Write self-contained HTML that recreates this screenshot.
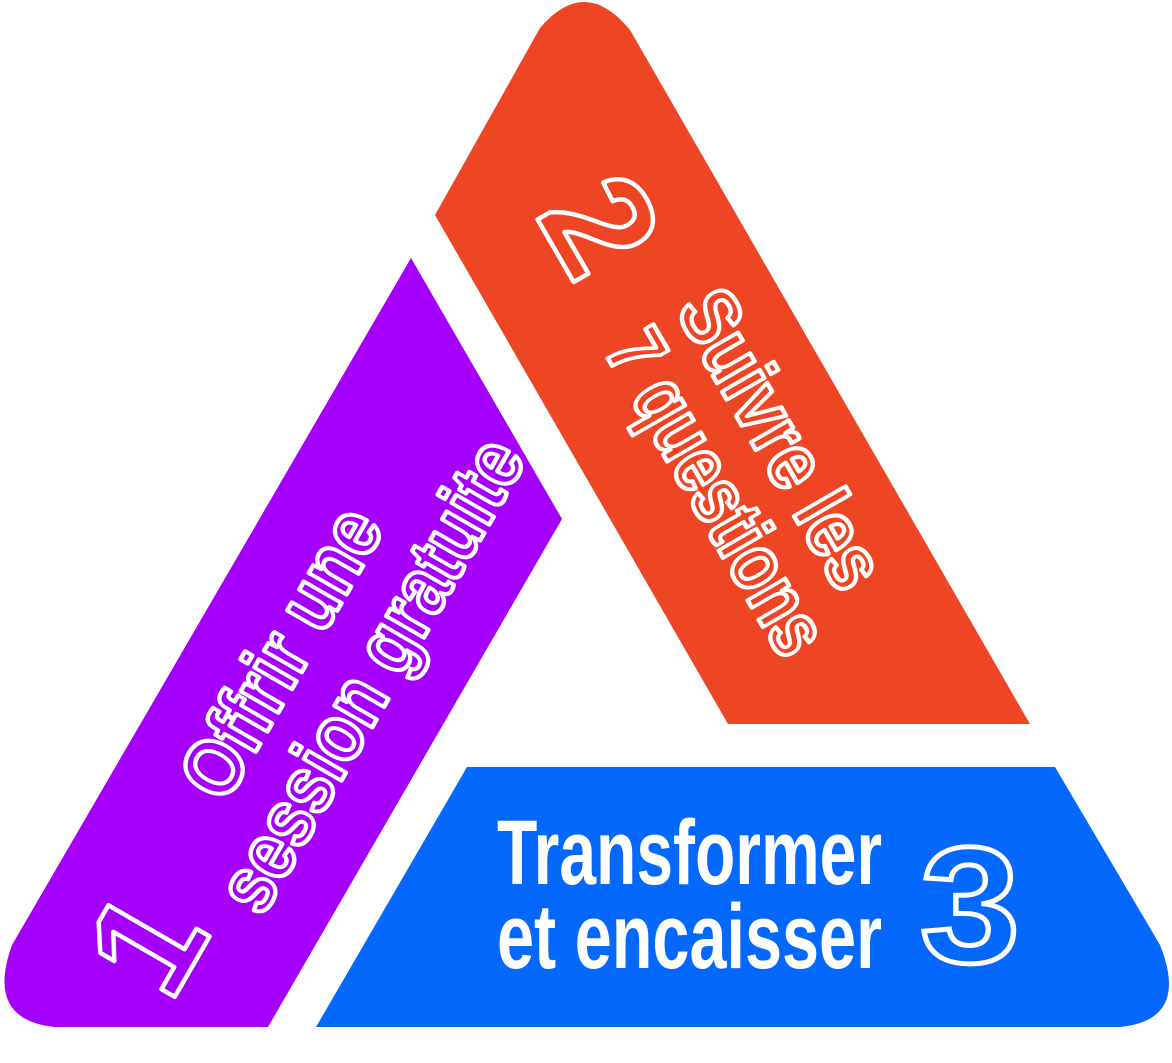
<!DOCTYPE html>
<html><head><meta charset="utf-8"><style>
html,body{margin:0;padding:0;background:#fff;}
svg{display:block;}
text{font-family:"Liberation Sans Narrow","Liberation Sans",sans-serif;font-weight:bold;}
</style></head><body>
<svg width="1172" height="1063" viewBox="0 0 1172 1063" xmlns="http://www.w3.org/2000/svg">
<path d="M411,258 L562,519 L268,1027 L55,1027 Q-15,1020 12,945 Z" fill="#a400fb"/>
<path d="M540,28 Q585,-25 630,30 L1030,724 L728,724 L435,215 Z" fill="#ee4524"/>
<path d="M467,767 L1055,767 L1160,945 Q1190,1020 1120,1027 L316,1027 Z" fill="#0468fd"/>

<g fill="none" stroke="#fff" stroke-width="4.5" stroke-linejoin="round">
<text transform="translate(225,805) rotate(-60)" font-size="82" textLength="320" lengthAdjust="spacingAndGlyphs">Offrir une</text>
<text transform="translate(262,918) rotate(-60)" font-size="82" textLength="530" lengthAdjust="spacingAndGlyphs">session gratuite</text>
<text transform="translate(170,1005) rotate(-60)" font-size="150">1</text>
</g>
<g fill="none" stroke="#fff" stroke-width="4.5" stroke-linejoin="round">
<text transform="translate(675,310) rotate(60)" font-size="82" textLength="330" lengthAdjust="spacingAndGlyphs">Suivre les</text>
<text transform="translate(603,350) rotate(60)" font-size="82" textLength="360" lengthAdjust="spacingAndGlyphs">7 questions</text>
<text transform="translate(535,215) rotate(60)" font-size="150">2</text>
</g>
<text x="497" y="884" font-size="92" fill="#fff" textLength="385" lengthAdjust="spacingAndGlyphs">Transformer</text>
<text x="497" y="968" font-size="92" fill="#fff" textLength="385" lengthAdjust="spacingAndGlyphs">et encaisser</text>
<text x="920" y="962" font-size="165" fill="none" stroke="#fff" stroke-width="5" textLength="100" lengthAdjust="spacingAndGlyphs">3</text>
</svg>
</body></html>
